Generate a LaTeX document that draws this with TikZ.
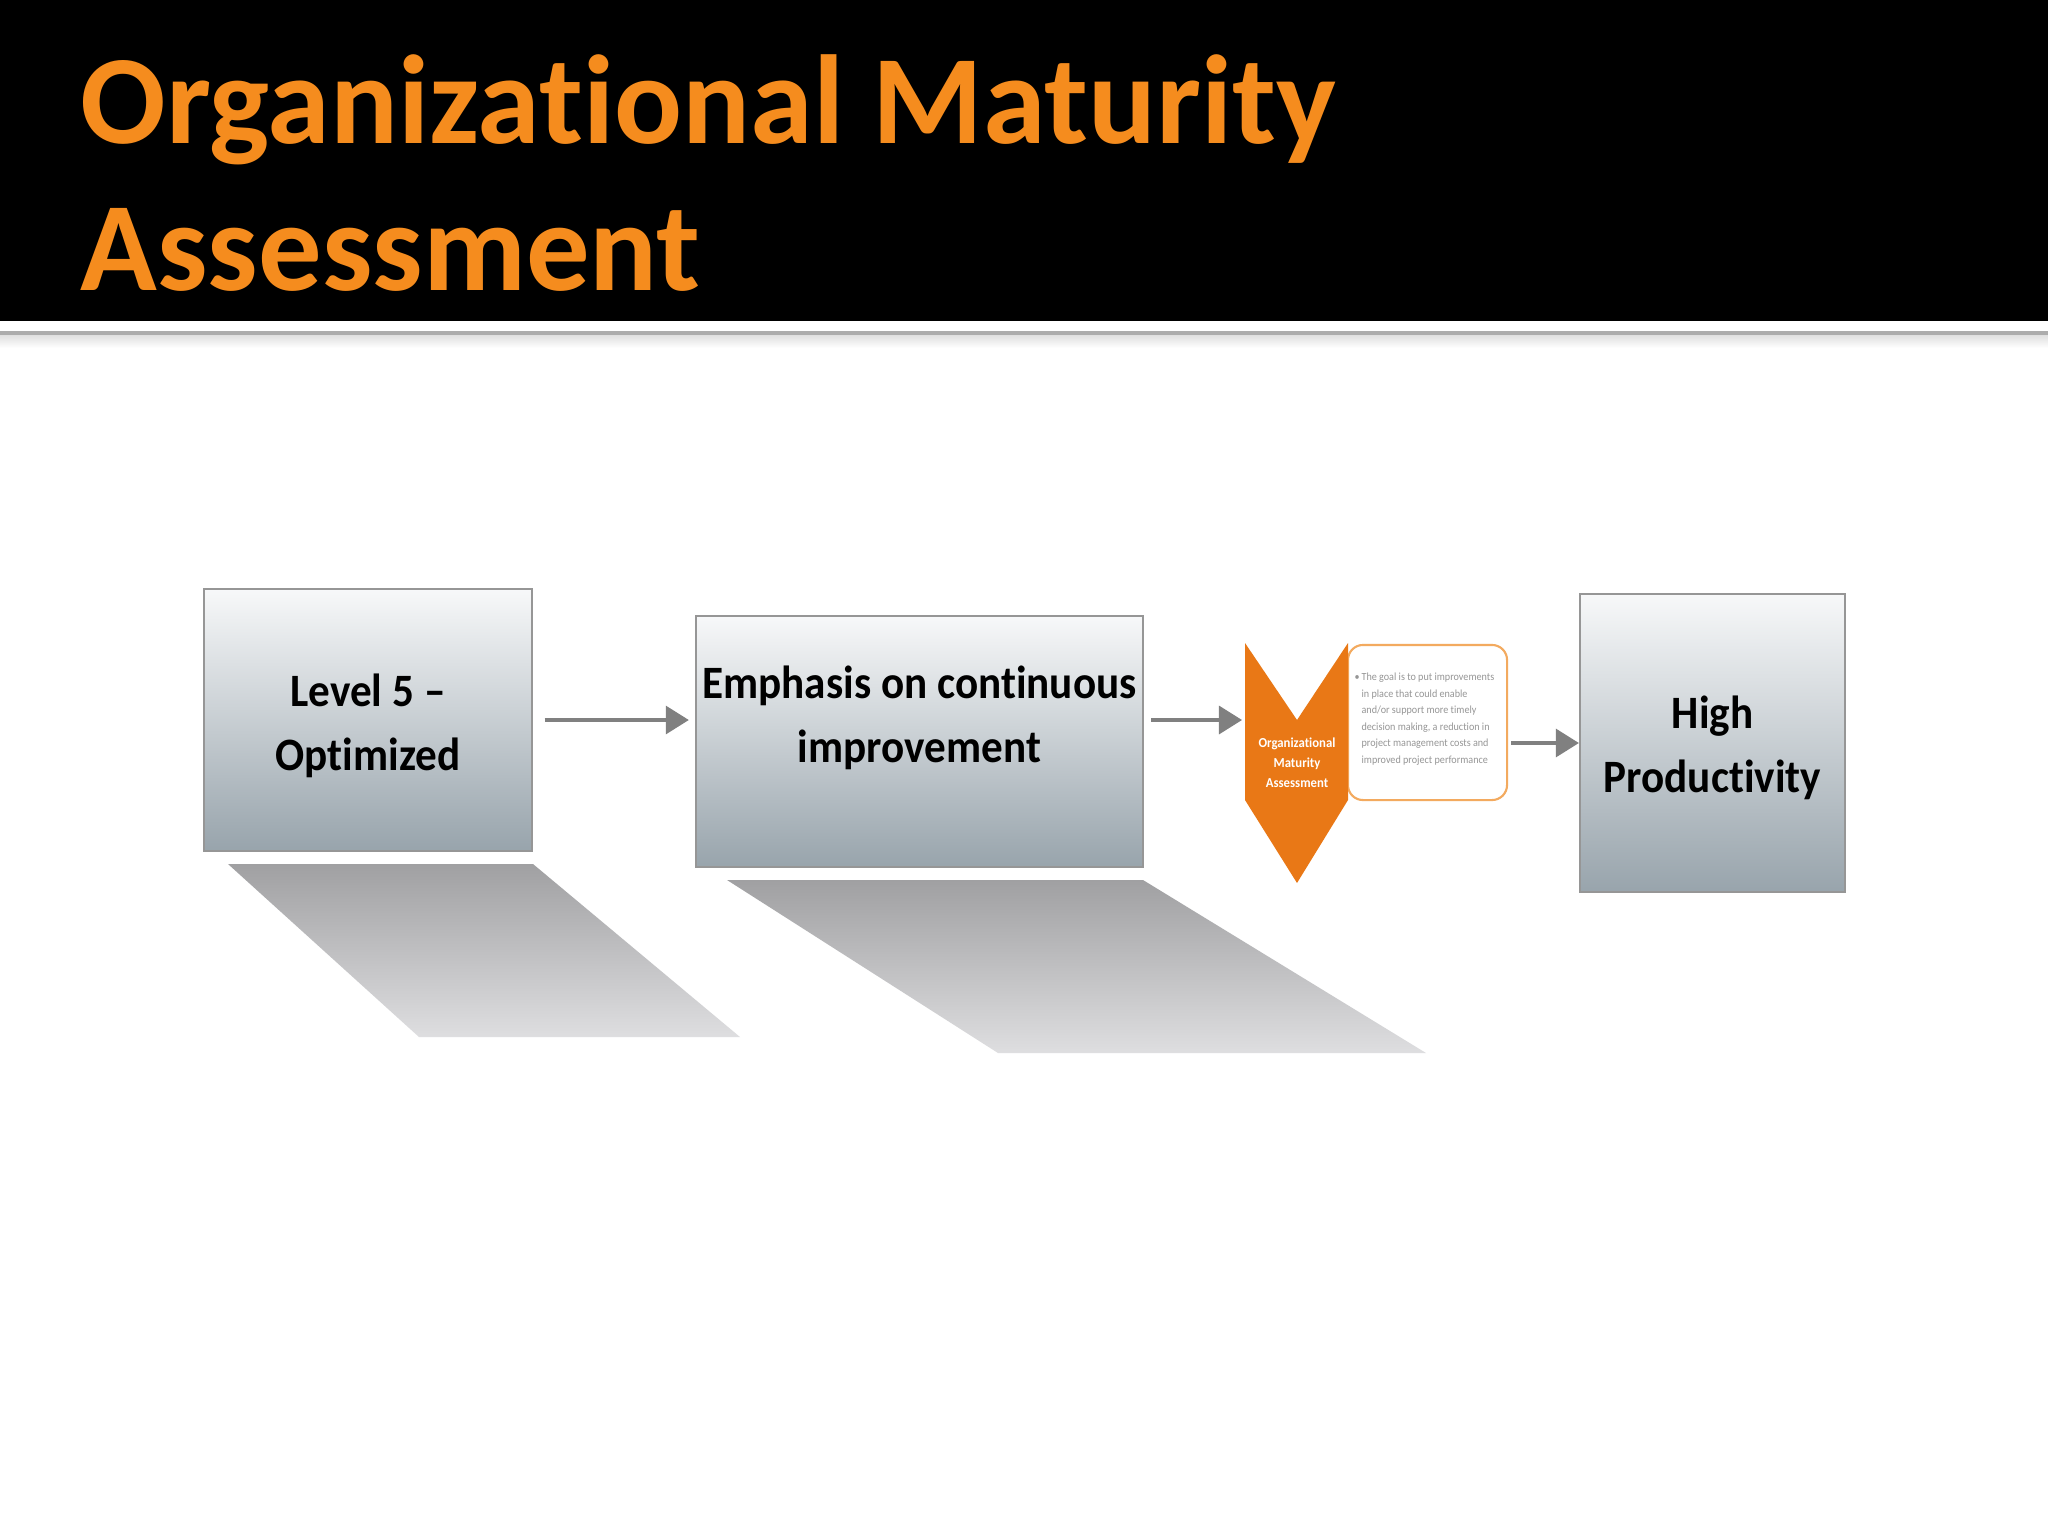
\documentclass[tikz,border=0pt]{standalone}
\usepackage{fontspec}
\setmainfont{Carlito}[Ligatures={TeX,NoCommon}]
\newfontfamily\stagefont{Carlito}[FakeStretch=0.93,Ligatures={TeX,NoCommon}]
\usetikzlibrary{arrows.meta,positioning,calc}
\definecolor{titleorange}{RGB}{245,140,30}
\definecolor{chevorange}{RGB}{233,120,22}
\definecolor{noteorange}{RGB}{243,170,95}
\definecolor{notegray}{RGB}{150,150,150}
\definecolor{boxtop}{RGB}{247,248,249}
\definecolor{boxbottom}{RGB}{152,164,172}
\definecolor{boxline}{RGB}{150,150,150}
\definecolor{arrowgray}{RGB}{128,128,128}
\definecolor{shadowtop}{RGB}{160,160,162}
\definecolor{shadowbottom}{RGB}{222,222,224}

\begin{document}
\begin{tikzpicture}[x=0.01cm,y=-0.01cm,
  stage/.style={draw=boxline,line width=0.6pt,top color=boxtop,bottom color=boxbottom,inner sep=0pt},
  stagetext/.style={align=center,text=black,anchor=base,inner sep=0pt,font=\stagefont\bfseries\fontsize{13.2}{18.2}\selectfont},
  flow/.style={draw=arrowgray,line width=0.9pt,-{Triangle[length=0.23cm,width=0.28cm]}},
  shadowfill/.style={top color=shadowtop,bottom color=shadowbottom}]
  \useasboundingbox (0,0) rectangle (2048,1536);
  \fill[white] (0,0) rectangle (2048,1536);
  % header band
  \fill[black] (0,0) rectangle (2048,321);
  \draw[gray!65,line width=1.1pt] (0,333) -- (2048,333);
  \shade[top color=gray!25,bottom color=white] (0,335) rectangle (2048,348);
  \node[anchor=base west,text=titleorange,font=\bfseries\fontsize{36}{42}\selectfont,inner sep=0pt] (title1) at (80,143) {Organizational Maturity};
  \node[anchor=base west,text=titleorange,font=\bfseries\fontsize{36}{42}\selectfont,inner sep=0pt] (title2) at (80,290) {Assessment};
  % shadows
  \shade[shadowfill] (228,864) -- (533,864) -- (740,1037) -- (419,1037) -- cycle;
  \shade[shadowfill] (727,880) -- (1143,880) -- (1426,1053) -- (998,1053) -- cycle;
  % stages
  \node[stage,minimum width=3.27cm,minimum height=2.61cm] (lvl) at (368,720) {};
  \node[stagetext] (lvltxt) at (368,770) {Level 5 \textendash\\Optimized};
  \node[stage,minimum width=4.47cm,minimum height=2.50cm] (emph) at (919.5,741.5) {};
  \node[stagetext] (emphtxt) at (919.5,762) {Emphasis on continuous\\improvement};
  \node[stage,minimum width=2.65cm,minimum height=2.98cm] (prod) at (1712.5,743) {};
  \node[stagetext] (prodtxt) at (1712.5,792) {High\\Productivity};
  % assessment chevron and note
  \node[draw=noteorange,fill=white,line width=0.6pt,rounded corners=0.15cm,minimum width=1.59cm,minimum height=1.55cm] (note) at (1427.5,722.5) {};
  \fill[chevorange] (1245,643) -- (1297,720) -- (1348,643) -- (1348,800) -- (1297,883) -- (1245,800) -- cycle;
  \node[align=center,text=white,font=\stagefont\bfseries\fontsize{3.9}{5.7}\selectfont,inner sep=0pt] (chevtxt) at (1297,763) {Organizational\\Maturity\\Assessment};
  \node[anchor=west,text=notegray,font=\stagefont\fontsize{3.1}{4.7}\selectfont,inner sep=0pt] (notetxt) at (1354,718.5)
    {\textbullet\,\begin{tabular}[t]{@{}l@{}}The goal is to put improvements\\in place that could enable\\and/or support more timely\\decision making, a reduction in\\project management costs and\\improved project performance\end{tabular}};
  \coordinate (chevin) at (1245,720);
  % connectors
  \draw[flow,shorten <=0.12cm,shorten >=0.06cm] (lvl.east) -- (lvl.east -| emph.west);
  \draw[flow,shorten <=0.07cm,shorten >=0.03cm] (emph.east |- chevin) -- (chevin);
  \draw[flow,shorten <=0.03cm] (note.east |- prod.west) -- (prod.west);
\end{tikzpicture}
\end{document}
